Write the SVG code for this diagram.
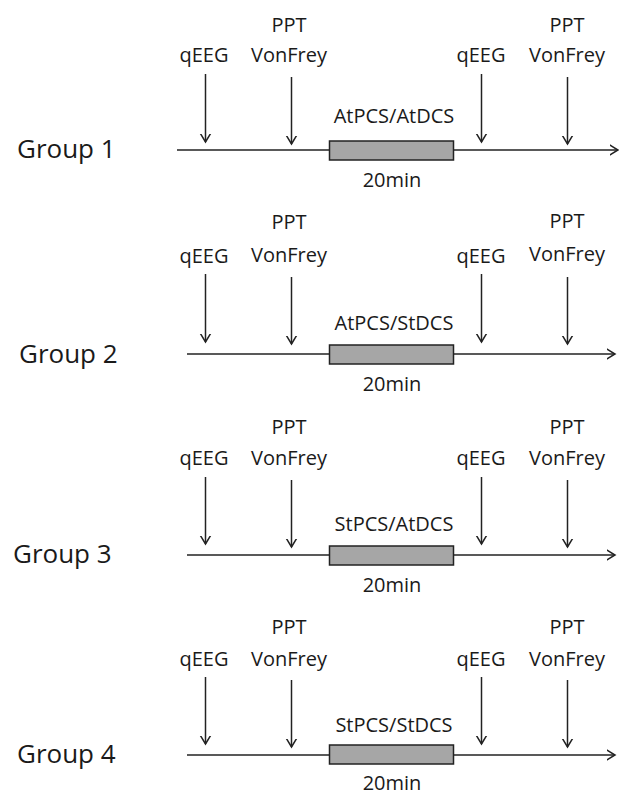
<svg xmlns="http://www.w3.org/2000/svg" width="619" height="799" viewBox="0 0 619 799">
<style>
.t{font-family:"Open Sans","Liberation Sans",sans-serif;font-size:20px;fill:#1a1a1a;text-anchor:middle}
.g{font-family:"Open Sans","Liberation Sans",sans-serif;font-size:26px;fill:#1a1a1a}
.ln{stroke:#222;stroke-width:1.5;fill:none}
.box{fill:#a6a6a6;stroke:#222;stroke-width:1.5}
</style>
<defs>
<marker id="ah" markerUnits="userSpaceOnUse" markerWidth="16" markerHeight="16" viewBox="-8 -8 16 16" refX="0" refY="0" orient="auto">
<path d="M-10,-6 L0,0 L-10,6" fill="none" stroke="#222" stroke-width="1.5"/>
</marker>
</defs>
<rect width="619" height="799" fill="#fff"/>

<g id="group1">
<text class="g" x="17" y="158">Group 1</text>
<text class="t" x="289" y="32">PPT</text>
<text class="t" x="289" y="62">VonFrey</text>
<text class="t" x="204" y="62">qEEG</text>
<text class="t" x="481" y="62">qEEG</text>
<text class="t" x="567" y="32">PPT</text>
<text class="t" x="567" y="62">VonFrey</text>
<rect class="box" x="329.5" y="141" width="124" height="19"/>
<text class="t" x="394" y="123">AtPCS/AtDCS</text>
<text class="t" x="392" y="187">20min</text>
</g>

<g id="group2">
<text class="g" x="19" y="363">Group 2</text>
<text class="t" x="289" y="229">PPT</text>
<text class="t" x="289" y="262">VonFrey</text>
<text class="t" x="204" y="263">qEEG</text>
<text class="t" x="481" y="263">qEEG</text>
<text class="t" x="567" y="228">PPT</text>
<text class="t" x="567" y="261">VonFrey</text>
<rect class="box" x="329.5" y="345" width="124" height="19"/>
<text class="t" x="394" y="330">AtPCS/StDCS</text>
<text class="t" x="392" y="391">20min</text>
</g>

<g id="group3">
<text class="g" x="13" y="563">Group 3</text>
<text class="t" x="289" y="434">PPT</text>
<text class="t" x="289" y="465">VonFrey</text>
<text class="t" x="204" y="465">qEEG</text>
<text class="t" x="481" y="465">qEEG</text>
<text class="t" x="567" y="434">PPT</text>
<text class="t" x="567" y="465">VonFrey</text>
<rect class="box" x="329.5" y="546" width="124" height="19"/>
<text class="t" x="394" y="531">StPCS/AtDCS</text>
<text class="t" x="392" y="592">20min</text>
</g>

<g id="group4">
<text class="g" x="17" y="763">Group 4</text>
<text class="t" x="289" y="634">PPT</text>
<text class="t" x="289" y="666">VonFrey</text>
<text class="t" x="204" y="666">qEEG</text>
<text class="t" x="481" y="666">qEEG</text>
<text class="t" x="567" y="634">PPT</text>
<text class="t" x="567" y="666">VonFrey</text>
<rect class="box" x="329.5" y="745" width="124" height="19"/>
<text class="t" x="394" y="732">StPCS/StDCS</text>
<text class="t" x="392" y="790">20min</text>
</g>

<g id="connectors" class="ln">
<line x1="177" y1="150" x2="329.5" y2="150"/>
<line x1="453.5" y1="150" x2="618" y2="150" marker-end="url(#ah)"/>
<line x1="205.5" y1="74" x2="205.5" y2="142" marker-end="url(#ah)"/>
<line x1="291.5" y1="77" x2="291.5" y2="144" marker-end="url(#ah)"/>
<line x1="481.5" y1="74" x2="481.5" y2="142" marker-end="url(#ah)"/>
<line x1="567.5" y1="77" x2="567.5" y2="144" marker-end="url(#ah)"/>

<line x1="187" y1="354" x2="329.5" y2="354"/>
<line x1="453.5" y1="354" x2="615" y2="354" marker-end="url(#ah)"/>
<line x1="205.5" y1="274" x2="205.5" y2="342" marker-end="url(#ah)"/>
<line x1="291.5" y1="277" x2="291.5" y2="344" marker-end="url(#ah)"/>
<line x1="481.5" y1="274" x2="481.5" y2="342" marker-end="url(#ah)"/>
<line x1="567.5" y1="277" x2="567.5" y2="344" marker-end="url(#ah)"/>

<line x1="187" y1="555" x2="329.5" y2="555"/>
<line x1="453.5" y1="555" x2="615" y2="555" marker-end="url(#ah)"/>
<line x1="205.5" y1="477" x2="205.5" y2="544" marker-end="url(#ah)"/>
<line x1="291.5" y1="480" x2="291.5" y2="547" marker-end="url(#ah)"/>
<line x1="481.5" y1="477" x2="481.5" y2="544" marker-end="url(#ah)"/>
<line x1="567.5" y1="480" x2="567.5" y2="547" marker-end="url(#ah)"/>

<line x1="187" y1="755" x2="329.5" y2="755"/>
<line x1="453.5" y1="755" x2="615" y2="755" marker-end="url(#ah)"/>
<line x1="205.5" y1="677" x2="205.5" y2="744" marker-end="url(#ah)"/>
<line x1="291.5" y1="680" x2="291.5" y2="747" marker-end="url(#ah)"/>
<line x1="481.5" y1="677" x2="481.5" y2="744" marker-end="url(#ah)"/>
<line x1="567.5" y1="680" x2="567.5" y2="747" marker-end="url(#ah)"/>
</g>
</svg>
